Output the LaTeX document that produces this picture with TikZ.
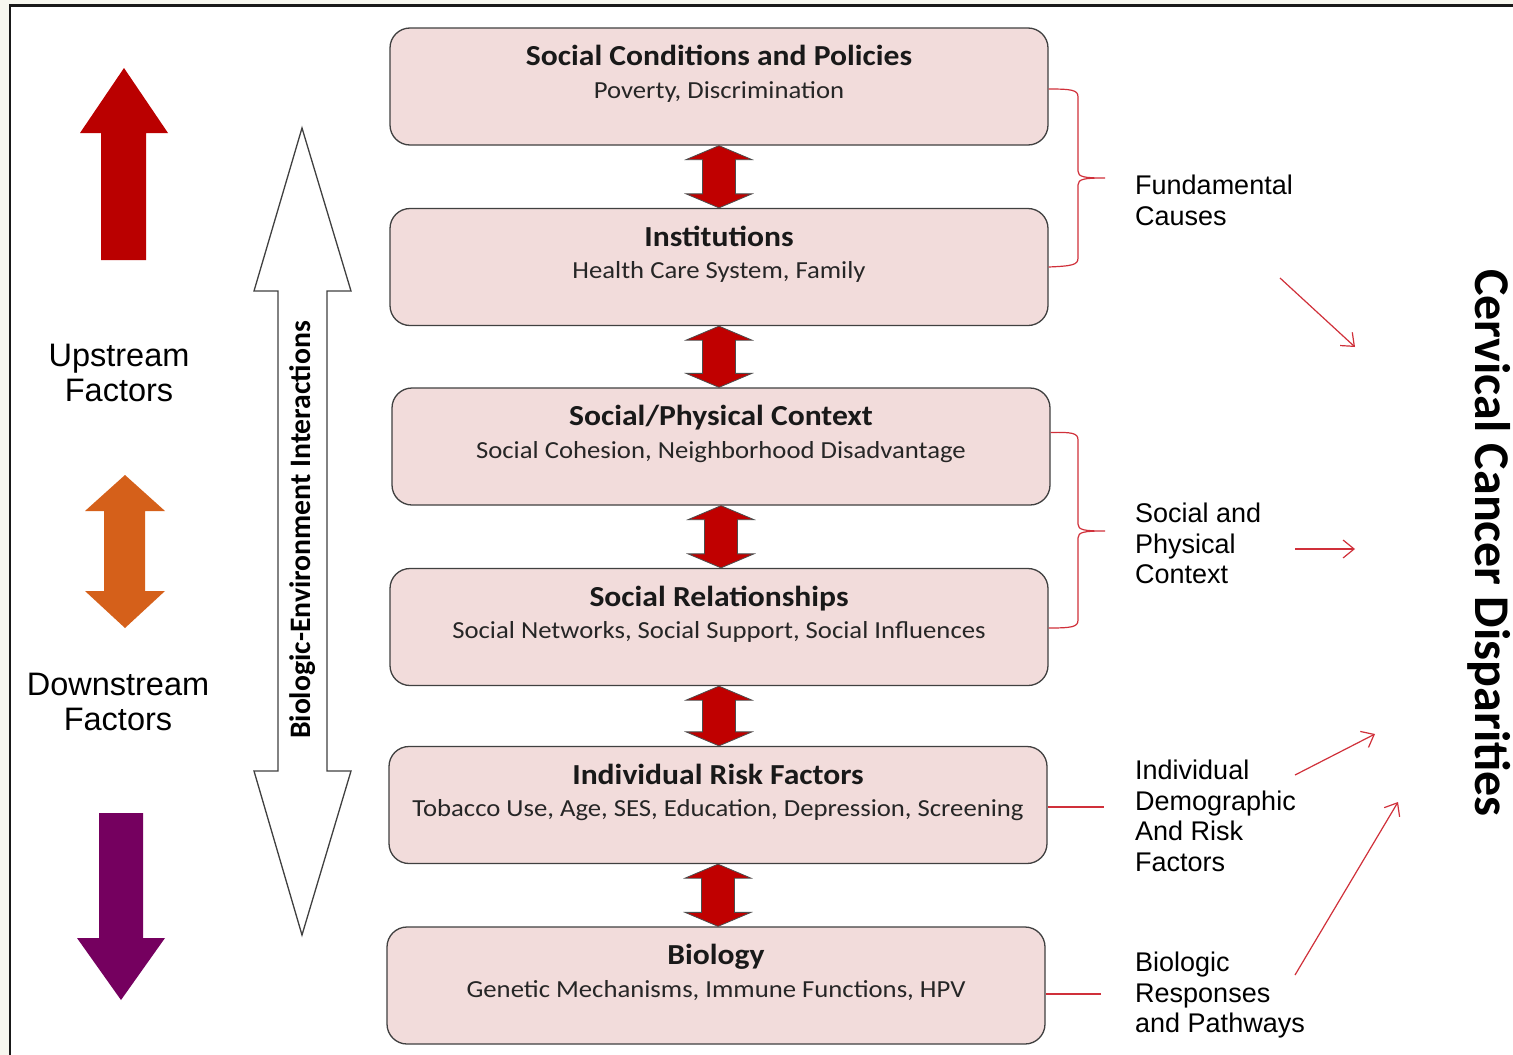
\documentclass[tikz,border=0pt]{standalone}
\usepackage{fontspec}
\setmainfont{Carlito}
\newfontfamily\arialf{Liberation Sans}
\newfontfamily\titlef[FakeStretch=1.09]{Carlito}
\usetikzlibrary{arrows.meta,calc}
\definecolor{bgc}{HTML}{F7F7EF}
\definecolor{boxpink}{HTML}{F2DCDB}
\definecolor{boxline}{HTML}{404040}
\definecolor{darkred}{HTML}{C00000}
\definecolor{upred}{HTML}{BA0000}
\definecolor{orng}{HTML}{D5601A}
\definecolor{purp}{HTML}{75005F}
\definecolor{linered}{HTML}{D0303A}
\tikzset{
  box/.style={draw=boxline, line width=1.3pt, fill=boxpink, rounded corners=20pt,
    minimum width=658pt, minimum height=117pt, inner sep=0pt},
  boxtitle/.style={font=\titlef\bfseries\fontsize{29}{33}\selectfont, inner sep=0pt, anchor=base, text=black!90},
  boxsub/.style={font=\titlef\fontsize{24.5}{28}\selectfont, inner sep=0pt, anchor=base, text=black!85},
  twoway/.style={fill=darkred, draw=black!70, line width=0.8pt, line join=miter},
  sidelabel/.style={font=\arialf\fontsize{27}{30.5}\selectfont, align=left, inner sep=0pt, anchor=north west},
  bigfactor/.style={font=\arialf\fontsize{32.5}{35}\selectfont, align=center, inner sep=0pt},
  brace/.style={draw=linered, line width=1.2pt},
  redlink/.style={draw=linered, line width=1.2pt, -{Straight Barb[length=11pt,width=18pt,line width=1.2pt]}},
}
\newcommand\linkarrow[2]{%
  \draw[twoway] let \p1=(#1.south), \p2=(#2.north) in
    (\x1,\y1) -- (\x1+33pt,\y1-14pt) -- (\x1+16.5pt,\y1-14pt) -- (\x1+16.5pt,\y2+14pt)
    -- (\x1+33pt,\y2+14pt) -- (\x1,\y2) -- (\x1-33pt,\y2+14pt) -- (\x1-16.5pt,\y2+14pt)
    -- (\x1-16.5pt,\y1-14pt) -- (\x1-33pt,\y1-14pt) -- cycle;}
\begin{document}
\begin{tikzpicture}[x=1pt,y=-1pt]
\useasboundingbox (0,0) rectangle (1513,1055);
\fill[bgc] (0,0) rectangle (1513,1055);
\fill[white] (10,5) rectangle (1513,1055);
\draw[line width=3pt, black!90] (1513,5) -- (10,5);
\draw[line width=2pt, black!90] (10,4) -- (10,1055);

% boxes
\node[box] (b1) at (719,86.5) {};
\node[box] (b2) at (719,267) {};
\node[box] (b3) at (721,446.5) {};
\node[box] (b4) at (719,627) {};
\node[box] (b5) at (718,805) {};
\node[box] (b6) at (716,985.5) {};

\node[boxtitle] (t1) at ([yshift=-38.5pt]b1.north) {Social Conditions and Policies};
\node[boxsub]   (s1) at ([yshift=-71pt]b1.north) {Poverty, Discrimination};
\node[boxtitle] (t2) at ([yshift=-38.5pt]b2.north) {Institutions};
\node[boxsub]   (s2) at ([yshift=-71pt]b2.north) {Health Care System, Family};
\node[boxtitle] (t3) at ([yshift=-38.5pt]b3.north) {Social/Physical Context};
\node[boxsub]   (s3) at ([yshift=-71pt]b3.north) {Social Cohesion, Neighborhood Disadvantage};
\node[boxtitle] (t4) at ([yshift=-38.5pt]b4.north) {Social Relationships};
\node[boxsub]   (s4) at ([yshift=-71pt]b4.north) {Social Networks, Social Support, Social Influences};
\node[boxtitle] (t5) at ([yshift=-38.5pt]b5.north) {Individual Risk Factors};
\node[boxsub]   (s5) at ([yshift=-71pt]b5.north) {Tobacco Use, Age, SES, Education, Depression, Screening};
\node[boxtitle] (t6) at ([yshift=-38.5pt]b6.north) {Biology};
\node[boxsub]   (s6) at ([yshift=-71pt]b6.north) {Genetic Mechanisms, Immune Functions, HPV};

\linkarrow{b1}{b2}
\linkarrow{b2}{b3}
\linkarrow{b3}{b4}
\linkarrow{b4}{b5}
\linkarrow{b5}{b6}

% left factor arrows
\fill[upred] (124,68) -- (168,133) -- (146,133) -- (146,260) -- (101,260) -- (101,133) -- (80,133) -- cycle;
\fill[orng] (125,475) -- (165,511) -- (145,511) -- (145,591) -- (165,591) -- (125,628)
  -- (85,591) -- (104,591) -- (104,511) -- (85,511) -- cycle;
\fill[purp] (99,813) -- (143,813) -- (143,938) -- (165,938) -- (121,1000) -- (77,938) -- (99,938) -- cycle;
\node[bigfactor] (up) at (119,373) {Upstream\\Factors};
\node[bigfactor] (down) at (118,702) {Downstream\\Factors};

% white interaction arrow
\draw[black!75, line width=1.3pt, fill=white, line join=miter]
  (302,128) -- (351,291) -- (327,291) -- (327,771) -- (351,771) -- (302,935)
  -- (254,771) -- (278,771) -- (278,291) -- (254,291) -- cycle;
\node[font=\bfseries\fontsize{29.7}{33}\selectfont, rotate=90, inner sep=0pt] (bei) at (303,530) {Biologic-Environment Interactions};

% right labels
\node[sidelabel] (fc) at (1135,175) {Fundamental\\Causes};
\node[sidelabel] (sp) at (1135,503) {Social and\\Physical\\Context};
\node[sidelabel] (id) at (1135,760) {Individual\\Demographic\\And Risk\\Factors};
\node[sidelabel] (bp) at (1135,952) {Biologic\\Responses\\and Pathways};

\node[font=\bfseries\fontsize{50}{54}\selectfont, rotate=-90, inner sep=0pt] (ccd) at (1489,543) {Cervical Cancer Disparities};

% braces
\coordinate (br1) at (1105,178);
\coordinate (br2) at (1105,531);
\draw[brace] ([yshift=-2.5pt]b1.east) .. controls (1072,89) and (1078,90) .. (1078,97) -- (1078,171)
  .. controls (1078,177) and (1084,178) .. (br1)
  .. controls (1084,178) and (1078,179) .. (1078,185) -- (1078,258)
  .. controls (1078,265) and (1072,266) .. (b2.east);
\draw[brace] ([yshift=14pt]b3.east) .. controls (1072,432) and (1078,433) .. (1078,440) -- (1078,524)
  .. controls (1078,530) and (1084,531) .. (br2)
  .. controls (1084,531) and (1078,532) .. (1078,538) -- (1078,620)
  .. controls (1078,627) and (1072,628) .. ([yshift=-1pt]b4.east);
\coordinate (l5) at (1104,807);
\coordinate (l6) at (1101,994);
\draw[brace] ([yshift=-2pt]b5.east) -- (l5);
\draw[brace] ([yshift=-8.5pt]b6.east) -- (l6);

% red arrows to disparities
\coordinate (a1s) at (1280,278); \coordinate (a1e) at (1355,347);
\coordinate (a2s) at (1295,549); \coordinate (a2e) at (1355,549);
\coordinate (a3s) at (1295,775); \coordinate (a3e) at (1375,734);
\coordinate (a4s) at (1295,975); \coordinate (a4e) at (1398,802);
\draw[redlink] (a1s) -- (a1e);
\draw[redlink] (a2s) -- (a2e);
\draw[redlink] (a3s) -- (a3e);
\draw[redlink] (a4s) -- (a4e);
\end{tikzpicture}
\end{document}
